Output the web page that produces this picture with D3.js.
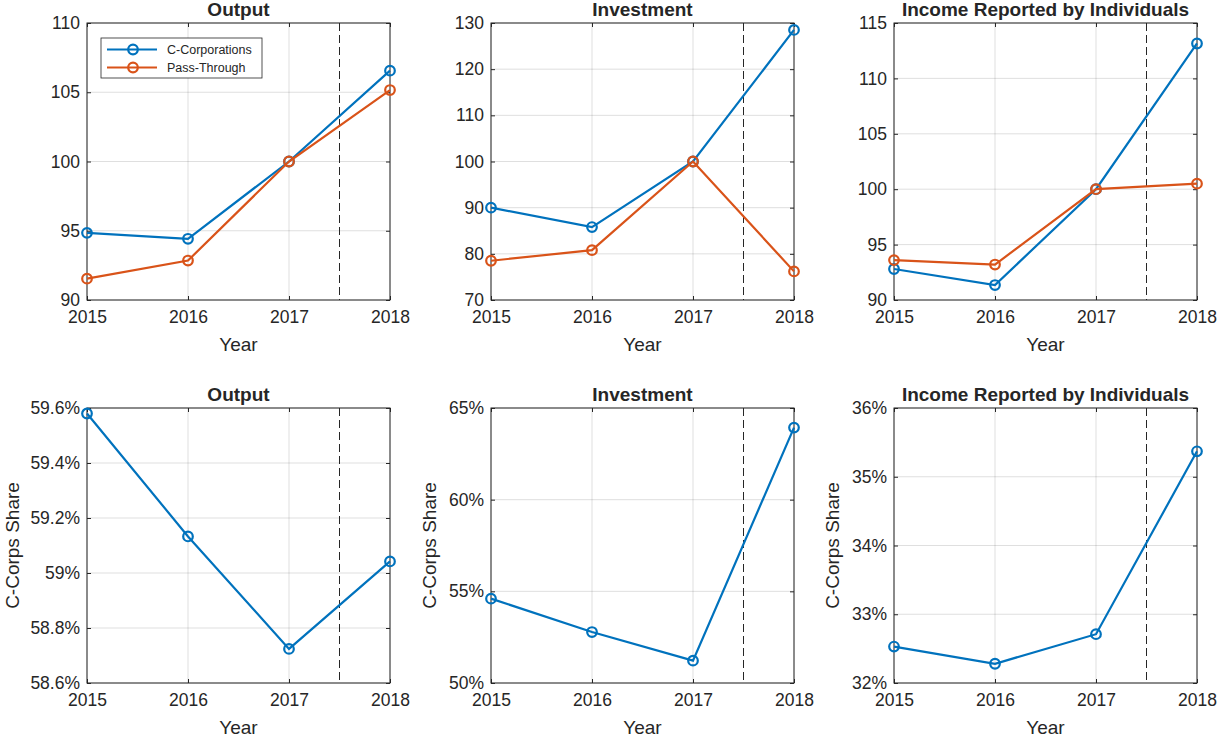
<!DOCTYPE html>
<html>
<head>
<script src="https://cdnjs.cloudflare.com/ajax/libs/d3/7.8.5/d3.min.js"></script>
<style>
  body { margin: 0; background: #fff; }
  text { font-family: "Liberation Sans", Arial, sans-serif; fill: #262626; }
</style>
</head>
<body>
<div id="chart-area"></div>
<script>
var years = [2015, 2016, 2017, 2018];
var breakYear = 2017.5;
var titles = ["Output", "Investment", "Income Reported by Individuals"];
var seriesNames = ["C-Corporations", "Pass-Through"];

// index levels, 2017 = 100
var corpOutput = [94.85, 94.42, 100, 106.56];
var passOutput = [91.54, 92.85, 100, 105.16];
var corpInvest = [90.0, 85.8, 100, 128.5];
var passInvest = [78.5, 80.8, 100, 76.2];
var corpIncome = [92.8, 91.35, 100, 113.15];
var passIncome = [93.6, 93.2, 100, 100.5];

// C-corp share, percent
var shareOutput = [59.58, 59.133, 58.724, 59.042];
var shareInvest = [54.6, 52.78, 51.22, 63.93];
var shareIncome = [32.53, 32.28, 32.71, 35.37];

var levelTicks = [[90, 95, 100, 105, 110], [70, 80, 90, 100, 110, 120, 130], [90, 95, 100, 105, 110, 115]];
var shareTicks = [[58.6, 58.8, 59, 59.2, 59.4, 59.6], [50, 55, 60, 65], [32, 33, 34, 35, 36]];

var blue = "#0072BD", orange = "#D95319";
var W = 1231, H = 742;
var lefts = [87, 491, 894];
var plotW = 303;
var rows = [{ top: 23, bottom: 300 }, { top: 408, bottom: 683 }];

var svg = d3.select("#chart-area").append("svg")
  .attr("width", W).attr("height", H);

function drawPanel(col, row, series, ticks, isShare, withLegend) {
  var x0 = lefts[col], y0 = rows[row].top, h = rows[row].bottom - rows[row].top;
  var g = svg.append("g").attr("transform", "translate(" + x0 + "," + y0 + ")");

  var x = d3.scaleLinear().domain([2015, 2018]).range([0, plotW]);
  var y = d3.scaleLinear().domain(d3.extent(ticks)).range([h, 0]);
  var fmt = isShare ? function(d) { return (+d.toFixed(1)) + "%"; } : function(d) { return d; };

  // grid
  g.append("g").selectAll("line.gx").data(years).enter().append("line")
    .attr("x1", function(d) { return x(d); }).attr("x2", function(d) { return x(d); })
    .attr("y1", 0).attr("y2", h)
    .attr("stroke", "#262626").attr("stroke-opacity", 0.15);
  g.append("g").selectAll("line.gy").data(ticks).enter().append("line")
    .attr("y1", function(d) { return y(d); }).attr("y2", function(d) { return y(d); })
    .attr("x1", 0).attr("x2", plotW)
    .attr("stroke", "#262626").attr("stroke-opacity", 0.15);

  // axes (ticks inside, mirrored)
  var tl = 4;
  var axL = g.append("g").call(d3.axisLeft(y).tickValues(ticks).tickSize(-tl).tickPadding(7).tickFormat(fmt));
  var axR = g.append("g").attr("transform", "translate(" + plotW + ",0)")
    .call(d3.axisRight(y).tickValues(ticks).tickSize(-tl).tickFormat(""));
  var axB = g.append("g").attr("transform", "translate(0," + h + ")")
    .call(d3.axisBottom(x).tickValues(years).tickSize(-tl).tickPadding(11).tickFormat(d3.format("d")));
  var axT = g.append("g")
    .call(d3.axisTop(x).tickValues(years).tickSize(-tl).tickFormat(""));
  [axL, axR, axB, axT].forEach(function(a) {
    a.select(".domain").remove();
    a.selectAll(".tick line").attr("stroke", "#262626");
    a.selectAll("text").attr("font-size", "17.5px").attr("fill", "#262626")
      .attr("font-family", "Liberation Sans, Arial, sans-serif");
  });

  g.append("rect").attr("width", plotW).attr("height", h)
    .attr("fill", "none").attr("stroke", "#262626").attr("stroke-width", 1);

  // policy break
  g.append("line")
    .attr("x1", x(breakYear)).attr("x2", x(breakYear))
    .attr("y1", 0).attr("y2", h)
    .attr("stroke", "#262626").attr("stroke-width", 1).attr("stroke-dasharray", "8,4");

  var line = d3.line().x(function(d, i) { return x(years[i]); }).y(function(d) { return y(d); });
  series.forEach(function(s) {
    g.append("path").datum(s.values).attr("d", line)
      .attr("fill", "none").attr("stroke", s.color).attr("stroke-width", 2.2);
    g.selectAll(null).data(s.values).enter().append("circle")
      .attr("cx", function(d, i) { return x(years[i]); })
      .attr("cy", function(d) { return y(d); })
      .attr("r", 4.8).attr("fill", "none").attr("stroke", s.color).attr("stroke-width", 2.2);
  });

  g.append("text").attr("x", plotW / 2).attr("y", -7)
    .attr("text-anchor", "middle").attr("font-size", "19px").attr("font-weight", "bold")
    .attr("fill", "#000").text(titles[col]);

  g.append("text").attr("x", plotW / 2).attr("y", h + 51)
    .attr("text-anchor", "middle").attr("font-size", "19px").text("Year");

  if (isShare) {
    g.append("text")
      .attr("transform", "translate(" + (col === 0 ? -68 : -55) + "," + (h / 2) + ") rotate(-90)")
      .attr("text-anchor", "middle").attr("font-size", "19px").text("C-Corps Share");
  }

  if (withLegend) {
    var lg = g.append("g").attr("transform", "translate(14,15)");
    lg.append("rect").attr("width", 161).attr("height", 40)
      .attr("fill", "#fff").attr("stroke", "#262626").attr("stroke-width", 0.8);
    series.forEach(function(s, i) {
      var yy = 11.5 + i * 18;
      lg.append("line").attr("x1", 6).attr("x2", 56).attr("y1", yy).attr("y2", yy)
        .attr("stroke", s.color).attr("stroke-width", 2.2);
      lg.append("circle").attr("cx", 32).attr("cy", yy).attr("r", 4.8)
        .attr("fill", "none").attr("stroke", s.color).attr("stroke-width", 2.2);
      lg.append("text").attr("x", 66).attr("y", yy).attr("dy", "0.35em")
        .attr("font-size", "12.5px").attr("fill", "#000").text(seriesNames[i]);
    });
  }
}

var levels = [[corpOutput, passOutput], [corpInvest, passInvest], [corpIncome, passIncome]];
var shares = [shareOutput, shareInvest, shareIncome];

levels.forEach(function(pair, col) {
  drawPanel(col, 0, [
    { values: pair[0], color: blue },
    { values: pair[1], color: orange }
  ], levelTicks[col], false, col === 0);
});
shares.forEach(function(s, col) {
  drawPanel(col, 1, [{ values: s, color: blue }], shareTicks[col], true, false);
});
</script>
</body>
</html>
